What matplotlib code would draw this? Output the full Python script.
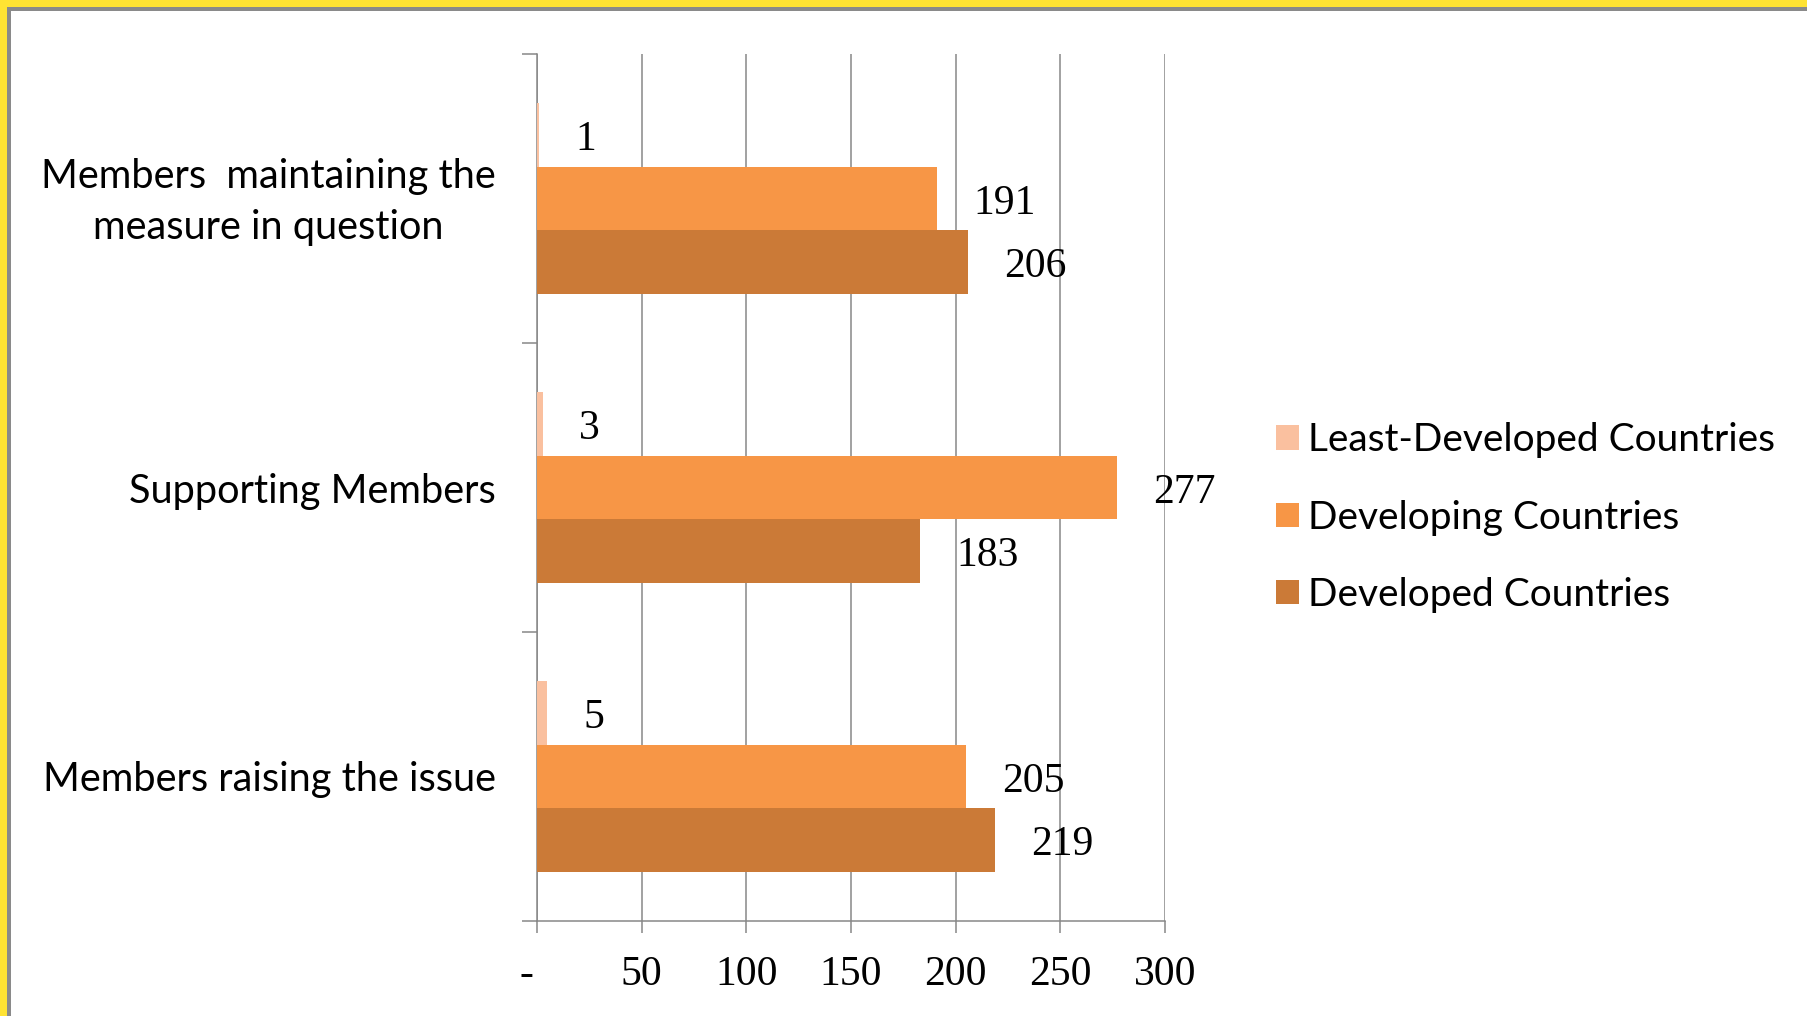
import matplotlib
matplotlib.use("Agg")
import matplotlib.pyplot as plt
from matplotlib.patches import Patch, Rectangle
from matplotlib.transforms import ScaledTranslation
import numpy as np

# Data: one value per category, ordered bottom to top
categories = ["Members raising the issue",
              "Supporting Members",
              "Members  maintaining the\nmeasure in question"]
series_names = ["Least-Developed Countries", "Developing Countries", "Developed Countries"]
least_developed = [5, 3, 1]
developing = [205, 277, 191]
developed = [219, 183, 206]
x_ticks = [0, 50, 100, 150, 200, 250, 300]
x_tick_labels = ["-  ", "50", "100", "150", "200", "250", "300"]

colors = ["#FAC09F", "#F79646", "#CB7A37"]
grid_gray = "#878787"
W, H = 1808, 1016

fig = plt.figure(figsize=(W / 100, H / 100), dpi=100)
fig.patch.set_facecolor("white")

# Frame: yellow band with a thin gray line along the top and left edges
fig.add_artist(Rectangle((0, 1 - 7 / H), 1, 7 / H, transform=fig.transFigure,
                         facecolor="#FFE333", edgecolor="none"))
fig.add_artist(Rectangle((0, 0), 7 / W, 1, transform=fig.transFigure,
                         facecolor="#FFE333", edgecolor="none"))
fig.add_artist(Rectangle((7 / W, 1 - 11 / H), 1, 4 / H, transform=fig.transFigure,
                         facecolor="#8A8A8A", edgecolor="none"))
fig.add_artist(Rectangle((7 / W, 0), 4 / W, 1 - 7 / H, transform=fig.transFigure,
                         facecolor="#8A8A8A", edgecolor="none"))

ax = fig.add_axes([537 / W, 1 - 921 / H, (1165 - 537) / W, (921 - 54) / H])

pos = np.arange(len(categories))
h = 0.22
series = [least_developed, developing, developed]
offsets = [h, 0, -h]
for vals, off, col in zip(series, offsets, colors):
    bars = ax.barh(pos + off, vals, height=h, color=col, linewidth=0, zorder=3)
    for b, v in zip(bars, vals):
        ax.annotate(str(v), xy=(v, b.get_y() + h / 2), xytext=(26, -3.5),
                    textcoords="offset points", ha="left", va="center",
                    fontsize=30, family="Liberation Serif", zorder=4)

ax.set_xlim(0, 300)
ax.set_ylim(-0.5, 2.5)

ax.set_xticks(x_ticks)
ax.set_xticklabels(x_tick_labels, fontsize=30, family="Liberation Serif")
ax.tick_params(axis="x", which="major", direction="out", length=8.6, width=1.1,
               color=grid_gray, pad=16.3)

ax.set_yticks([-0.5, 0.5, 1.5, 2.5])
ax.set_yticklabels([])
ax.set_yticks(pos, minor=True)
ax.set_yticklabels(categories, minor=True, fontsize=28.6, family="Lato")
ax.tick_params(axis="y", which="major", direction="out", length=10.8, width=1.1,
               color=grid_gray)
ax.tick_params(axis="y", which="minor", length=0, pad=29.5)
for lbl in ax.get_yticklabels(minor=True):
    lbl.set_multialignment("center")
    lbl.set_linespacing(1.47)
    if "\n" in lbl.get_text():
        # nudge the two-line label up so its lines sit evenly around the group
        lbl.set_transform(lbl.get_transform()
                          + ScaledTranslation(0, 5 / 72, fig.dpi_scale_trans))

ax.xaxis.grid(True, color=grid_gray, linewidth=1.1, zorder=0)
ax.set_axisbelow(True)
for side in ("top", "right"):
    ax.spines[side].set_visible(False)
for side in ("left", "bottom"):
    ax.spines[side].set_color(grid_gray)
    ax.spines[side].set_linewidth(1.1)

handles = [Patch(facecolor=c, edgecolor="none") for c in colors]
fig.legend(handles=handles, labels=series_names, loc="center left",
           bbox_to_anchor=(1276 / W, 1 - 517.5 / H), bbox_transform=fig.transFigure,
           frameon=False, prop={"family": "Lato", "size": 28},
           handlelength=0.59, handleheight=0.59, handletextpad=0.23,
           labelspacing=1.06, borderpad=0, borderaxespad=0)

fig.savefig("out.png", dpi=100)
